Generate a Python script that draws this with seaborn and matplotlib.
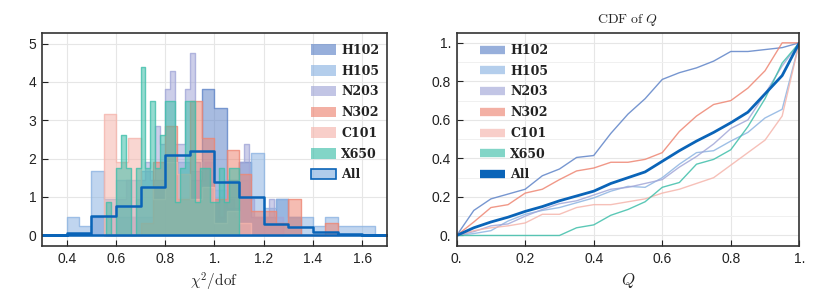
import numpy as np
import pandas as pd
import matplotlib
matplotlib.use("Agg")
import matplotlib.pyplot as plt
import seaborn as sns
from matplotlib.ticker import FixedLocator
from matplotlib.colors import to_rgba
from matplotlib.patches import Patch
from matplotlib.lines import Line2D

sns.set_theme(style="white")
plt.rcParams["font.family"] = ["Liberation Sans", "DejaVu Sans"]
plt.rcParams["mathtext.fontset"] = "cm"

# ---------------- data ----------------
series_names = ["H102", "H105", "N203", "N302", "C101", "X650"]
series_colors = ["#5f84c8", "#8db4e2", "#a2a7d8", "#ee8673", "#f5b5ac", "#3fbfaa"]
all_color = "#0a64b8"
all_fill = "#9cc0e6"

# histogram: start of first bin, bin width, heights
h102_start, h102_width = 0.50, 0.05
h102_heights = [0.48, 0.0, 0.48, 0.48, 0.48, 0.95, 1.9, 0.95, 1.43, 3.81, 3.33,
                1.43, 1.9, 0.48, 0.48, 0.95, 0.48]
h105_start, h105_width = 0.40, 0.05
h105_heights = [0.48, 0.24, 1.67, 0.95, 1.43, 1.43, 1.67, 1.43, 1.9, 1.9, 1.67,
                1.9, 1.19, 0.71, 1.43, 2.14, 0.71, 0.95, 0.48, 0.48, 0.24, 0.48,
                0.24, 0.24, 0.24]
n203_start, n203_width = 0.56, 0.02
n203_heights = [0.0, 0.48, 0.95, 0.95, 1.43, 0.48, 0.95, 1.43, 1.9, 1.43, 2.86,
                2.38, 3.81, 4.28, 2.38, 2.38, 3.81, 4.76, 1.9, 1.43, 1.9, 0.95,
                0.95, 0.48, 1.43, 0.95, 0.48, 1.9, 2.38, 0.95, 0.48, 0.48, 0.48,
                0.95, 0.48, 0.48]
n302_start, n302_width = 0.55, 0.05
n302_heights = [0.0, 0.0, 0.0, 0.32, 1.9, 2.85, 0.95, 3.5, 2.54, 0.95, 2.22,
                1.59, 0.63, 0.63, 0.32, 0.95, 0.0, 0.0, 0.32]
c101_start, c101_width = 0.55, 0.05
c101_heights = [3.17, 1.9, 2.54, 1.27, 0.95, 1.9, 1.59, 0.95, 1.27, 0.32, 0.63, 0.32]
x650_start, x650_width = 0.56, 0.02
x650_heights = [0.88, 0.0, 1.75, 2.62, 1.75, 0.0, 1.75, 4.38, 1.75, 3.5, 1.75,
                2.62, 3.5, 3.5, 0.88, 1.75, 3.5, 3.5, 0.88, 1.75, 1.75, 0.88,
                0.88, 1.75, 0.88, 1.75, 1.75]
all_start, all_width = 0.30, 0.10
all_heights = [0.0, 0.07, 0.5, 0.77, 1.27, 2.1, 2.2, 1.38, 1.0, 0.3, 0.22, 0.08, 0.04, 0.02]

hist_specs = [
    (h102_start, h102_width, h102_heights),
    (h105_start, h105_width, h105_heights),
    (n203_start, n203_width, n203_heights),
    (n302_start, n302_width, n302_heights),
    (c101_start, c101_width, c101_heights),
    (x650_start, x650_width, x650_heights),
]

# CDF of Q
q_grid = [0.0, 0.05, 0.1, 0.15, 0.2, 0.25, 0.3, 0.35, 0.4, 0.45, 0.5,
          0.55, 0.6, 0.65, 0.7, 0.75, 0.8, 0.85, 0.9, 0.95, 1.0]
cdf_h102 = [0, 0.13, 0.19, 0.215, 0.24, 0.31, 0.345, 0.405, 0.415, 0.53, 0.63,
            0.71, 0.81, 0.845, 0.87, 0.905, 0.955, 0.955, 0.965, 0.975, 1.0]
cdf_h105 = [0, 0.01, 0.025, 0.075, 0.11, 0.13, 0.145, 0.17, 0.195, 0.23, 0.255,
            0.25, 0.3, 0.37, 0.43, 0.44, 0.49, 0.535, 0.61, 0.655, 1.0]
cdf_n203 = [0, 0.02, 0.05, 0.06, 0.1, 0.135, 0.165, 0.18, 0.21, 0.24, 0.25,
            0.27, 0.29, 0.355, 0.41, 0.475, 0.555, 0.6, 0.735, 0.88, 1.0]
cdf_n302 = [0, 0.07, 0.145, 0.16, 0.22, 0.24, 0.29, 0.335, 0.35, 0.38, 0.38,
            0.395, 0.43, 0.54, 0.62, 0.68, 0.70, 0.765, 0.855, 1.0, 1.0]
cdf_c101 = [0, 0.025, 0.04, 0.05, 0.065, 0.11, 0.11, 0.145, 0.16, 0.16, 0.175,
            0.19, 0.22, 0.24, 0.27, 0.3, 0.365, 0.43, 0.495, 0.62, 1.0]
cdf_x650 = [0, 0, 0, 0, 0, 0, 0, 0.04, 0.055, 0.105, 0.135,
            0.175, 0.25, 0.275, 0.37, 0.395, 0.445, 0.565, 0.71, 0.895, 1.0]
cdf_all = [0, 0.04, 0.07, 0.095, 0.125, 0.15, 0.18, 0.205, 0.23, 0.27, 0.3,
           0.33, 0.385, 0.44, 0.49, 0.535, 0.585, 0.64, 0.735, 0.83, 1.0]
cdf_series = [cdf_h102, cdf_h105, cdf_n203, cdf_n302, cdf_c101, cdf_x650]

left_xticks = [0.4, 0.6, 0.8, 1.0, 1.2, 1.4, 1.6]
left_xticklabels = ["0.4", "0.6", "0.8", "1.", "1.2", "1.4", "1.6"]
left_yticks = [0, 1, 2, 3, 4, 5]
left_yticklabels = ["0", "1", "2", "3", "4", "5"]
right_ticks = [0.0, 0.2, 0.4, 0.6, 0.8, 1.0]
right_ticklabels = ["0.", "0.2", "0.4", "0.6", "0.8", "1."]

# ---------------- figure ----------------
fig = plt.figure(figsize=(8.30, 2.99), dpi=100)
axL = fig.add_axes([0.0506, 0.177, 0.4155, 0.712])
axR = fig.add_axes([0.5502, 0.177, 0.4128, 0.712])


def hist(ax, start, width, heights, color, alpha, edgecolor, lw, label):
    n = len(heights)
    edges = (start + width * np.arange(n + 1)).tolist()
    centers = start + width * (np.arange(n) + 0.5)
    df = pd.DataFrame({"x": centers, "w": heights})
    sns.histplot(data=df, x="x", weights="w", bins=edges, stat="count",
                 element="step", fill=True, color=color, alpha=alpha,
                 edgecolor=edgecolor, linewidth=lw, ax=ax, label=label)


for name, col, (st, wd, hh) in zip(series_names, series_colors, hist_specs):
    hist(axL, st, wd, hh, col, 0.55, to_rgba(col, 0.8), 1.0, name)
hist(axL, all_start, all_width, all_heights, all_fill, 0.0, all_color, 1.8, "All")

axL.set_xlim(0.3, 1.7)
axL.set_ylim(-0.28, 5.27)
axL.set_xticks(left_xticks)
axL.set_xticklabels(left_xticklabels)
axL.set_yticks(left_yticks)
axL.set_yticklabels(left_yticklabels)
axL.set_ylabel("")
axL.set_xlabel(r"$\chi^2/\mathrm{dof}$", fontsize=11, labelpad=4)

legend_font = {"family": "DejaVu Serif", "weight": "bold", "size": 9}
labels = series_names + ["All"]

handlesL = [Patch(facecolor=to_rgba(c, 0.65), edgecolor=to_rgba(c, 0.0)) for c in series_colors]
handlesL.append(Patch(facecolor=to_rgba(all_fill, 0.8), edgecolor=all_color, linewidth=1.2))
legL = axL.legend(handlesL, labels, loc="upper right", frameon=False, prop=legend_font,
                  handlelength=2.0, handleheight=0.9, labelspacing=0.62,
                  handletextpad=0.45, borderaxespad=0.2, bbox_to_anchor=(1.0, 0.985))
for t in legL.get_texts():
    t.set_color("#222222")

for name, col, cdf in zip(series_names, series_colors, cdf_series):
    sns.lineplot(x=q_grid, y=cdf, color=col, linewidth=1.0, alpha=0.85, ax=axR)
sns.lineplot(x=q_grid, y=cdf_all, color=all_color, linewidth=2.0, ax=axR)

handlesR = [Line2D([], [], color=to_rgba(c, 0.65), linewidth=6, solid_capstyle="butt") for c in series_colors]
handlesR.append(Line2D([], [], color=all_color, linewidth=6, solid_capstyle="butt"))
legR = axR.legend(handlesR, labels, loc="upper left", frameon=False, prop=legend_font,
                  handlelength=2.0, labelspacing=0.62, handletextpad=0.45,
                  borderaxespad=0.2, bbox_to_anchor=(0.045, 0.985))
for t in legR.get_texts():
    t.set_color("#222222")

axR.set_xlim(0, 1)
axR.set_ylim(-0.055, 1.05)
axR.set_xticks(right_ticks)
axR.set_xticklabels(right_ticklabels)
axR.set_yticks(right_ticks)
axR.set_yticklabels(right_ticklabels)
axR.set_xlabel(r"$Q$", fontsize=12, labelpad=4)
axR.set_title(r"$\mathrm{CDF\ of}\ Q$", fontsize=10, pad=7)

for ax in (axL, axR):
    ax.grid(True, which="major", color="#e6e6e6", linewidth=0.8)
    ax.set_axisbelow(True)
    ax.tick_params(direction="in", length=4, width=0.8, labelsize=10,
                   colors="#222222", bottom=True, left=True, top=False, right=False, pad=4)
    for s in ax.spines.values():
        s.set_color("#333333")
        s.set_linewidth(1.2)
axR.yaxis.set_minor_locator(FixedLocator([0.1, 0.3, 0.5, 0.7, 0.9]))
axR.grid(True, which="minor", axis="y", color="#f0f0f0", linewidth=0.7)
axR.tick_params(which="minor", length=0)

fig.savefig("out.png", dpi=100)
